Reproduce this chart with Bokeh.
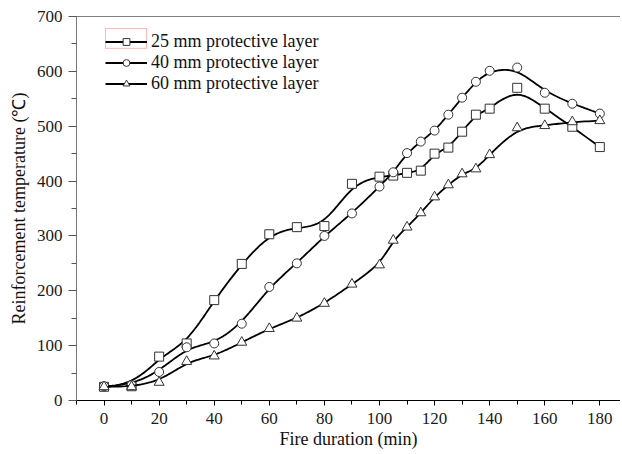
import numpy as np
from bokeh.plotting import figure
from bokeh.models import Range1d, LinearAxis, Legend, LegendItem, BoxAnnotation, FixedTicker
from bokeh.embed import file_html
from bokeh.resources import INLINE

# ---- data ----
x_25 = [0, 10, 20, 30, 40, 50, 60, 70, 80, 90, 100, 105, 110, 115, 120, 125, 130, 135, 140, 150, 160, 170, 180]
y_25 = [25, 26, 80, 104, 183, 249, 303, 316, 318, 395, 408, 410, 415, 419, 450, 461, 490, 521, 532, 570, 532, 499, 462]
x_40 = [0, 10, 20, 30, 40, 50, 60, 70, 80, 90, 100, 105, 110, 115, 120, 125, 130, 135, 140, 150, 160, 170, 180]
y_40 = [26, 28, 52, 97, 104, 140, 207, 250, 300, 341, 390, 416, 451, 472, 492, 521, 552, 581, 601, 607, 561, 541, 523]
x_60 = [0, 10, 20, 30, 40, 50, 60, 70, 80, 90, 100, 105, 110, 115, 120, 125, 130, 135, 140, 150, 160, 170, 180]
y_60 = [25, 25, 33, 71, 81, 106, 131, 150, 177, 212, 247, 292, 316, 342, 371, 393, 413, 422, 448, 497, 501, 508, 510]
labels = ["25 mm protective layer", "40 mm protective layer", "60 mm protective layer"]
markers = ["square", "circle", "triangle"]
x_ticks = [0, 20, 40, 60, 80, 100, 120, 140, 160, 180]
y_ticks = [0, 100, 200, 300, 400, 500, 600, 700]


def bspline(xs, ys, n=400, k=3):
    P = np.column_stack([xs, ys]).astype(float)
    m = len(P)
    inner = np.linspace(0, 1, m - k + 1)
    knots = np.concatenate([[0.0] * k, inner, [1.0] * k])
    t = np.linspace(0, 1, n)
    t[-1] = 1 - 1e-12
    N = np.zeros((n, len(knots) - 1))
    for i in range(len(knots) - 1):
        N[:, i] = (t >= knots[i]) & (t < knots[i + 1])
    for d in range(1, k + 1):
        Nn = np.zeros((n, len(knots) - 1 - d))
        for i in range(len(knots) - 1 - d):
            a = 0.0
            den1 = knots[i + d] - knots[i]
            den2 = knots[i + d + 1] - knots[i + 1]
            if den1 > 0:
                a = a + (t - knots[i]) / den1 * N[:, i]
            if den2 > 0:
                a = a + (knots[i + d + 1] - t) / den2 * N[:, i + 1]
            Nn[:, i] = a
        N = Nn
    C = N @ P
    return C[:, 0], C[:, 1]


FONT = "Liberation Serif"

p = figure(width=620, height=451, output_backend="svg", toolbar_location=None,
           x_range=Range1d(-10, 187.5), y_range=Range1d(0, 700),
           min_border_left=76, min_border_top=16, min_border_bottom=51, min_border_right=0,
           x_axis_label="Fire duration (min)", y_axis_label="Reinforcement temperature (\u2103)")
p.grid.visible = False
p.outline_line_color = None
p.background_fill_color = "white"
p.border_fill_color = "white"

for ax in (p.xaxis[0], p.yaxis[0]):
    ax.major_label_text_font = FONT
    ax.major_label_text_font_size = "17px"
    ax.major_label_text_color = "#1a1a1a"
    ax.axis_label_text_font = FONT
    ax.axis_label_text_font_size = "18px"
    ax.axis_label_text_font_style = "normal"
    ax.axis_label_text_color = "#111111"
    ax.major_tick_in = 0
    ax.minor_tick_in = 0

p.xaxis.ticker = FixedTicker(ticks=x_ticks, minor_ticks=list(range(-10, 190, 10)))
p.yaxis.ticker = FixedTicker(ticks=y_ticks, minor_ticks=list(range(0, 701, 50)))
p.xaxis.major_tick_out = 5
p.xaxis.minor_tick_out = 4
p.xaxis.axis_line_color = "black"
p.xaxis.major_label_standoff = 7
p.xaxis.axis_label_standoff = 2
p.yaxis.major_tick_out = 8
p.yaxis.minor_tick_out = 5
p.yaxis.axis_line_color = "#777777"
p.yaxis.major_tick_line_color = "#555555"
p.yaxis.minor_tick_line_color = "#555555"
p.yaxis.major_label_standoff = 6
p.yaxis.axis_label_standoff = 5

top = LinearAxis(major_tick_out=0, minor_tick_out=0, major_tick_in=0, minor_tick_in=0,
                 major_label_text_font_size="0px", axis_line_color="#808080")
top.ticker = FixedTicker(ticks=[])
p.add_layout(top, "above")

items = []
for xs, ys, mk, lab in zip([x_25, x_40, x_60], [y_25, y_40, y_60], markers, labels):
    cx, cy = bspline(xs, ys)
    lr = p.line(cx, cy, line_color="black", line_width=1.8)
    sr = p.scatter(xs, ys, marker=mk, size=10 if mk == "triangle" else 9,
                   fill_color="white", line_color="#333333", line_width=1)
    items.append(LegendItem(label=lab, renderers=[lr, sr]))

leg = Legend(items=items, location=(29, 306), padding=0, margin=0,
             border_line_color=None, background_fill_alpha=0,
             label_text_font=FONT, label_text_font_size="18px", label_text_color="#111111",
             glyph_width=42, glyph_height=17, label_height=17, spacing=0, label_standoff=4)
p.add_layout(leg)

p.add_layout(BoxAnnotation(left=0.55, right=15.45, bottom=642, top=678,
                           fill_alpha=0, line_color="red", line_width=1))

open("out.html", "w").write(file_html(p, INLINE))
